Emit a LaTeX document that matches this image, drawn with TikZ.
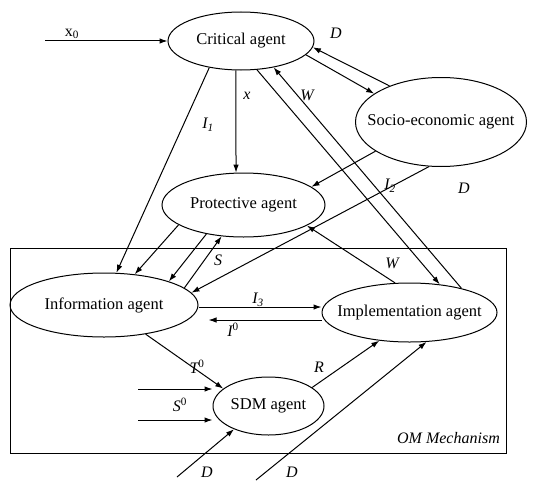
\documentclass[tikz,border=0pt]{standalone}
\usepackage{fontspec}
\setmainfont{Liberation Serif}
\usetikzlibrary{shapes.geometric,arrows.meta}
\tikzset{
  agent/.style={draw, ellipse, inner sep=0pt, line width=1pt, font=\fontsize{16.5}{19}\selectfont},
  arr/.style={-{Latex[length=8pt,width=5.5pt]}, line width=1pt},
  lbl/.style={font=\fontsize{16}{18}\selectfont\itshape, inner sep=0pt},
  frame/.style={draw, line width=1pt},
}
\begin{document}
\begin{tikzpicture}[x=1pt,y=-1pt]
\useasboundingbox (0,0) rectangle (534,487);
\draw[frame] (10,248) rectangle (506,453);

\node[agent, minimum width=146pt, minimum height=58pt] (crit) at (241,41) {\makebox[0pt]{Critical agent}};
\node[agent, minimum width=171pt, minimum height=89pt] (socio) at (441,122) {\makebox[0pt]{Socio-economic agent}};
\node[agent, minimum width=163pt, minimum height=64pt] (prot) at (243.5,205) {\makebox[0pt]{Protective agent}};
\node[agent, minimum width=188pt, minimum height=64pt] (info) at (104,305) {\makebox[0pt]{Information agent}};
\node[agent, minimum width=175pt, minimum height=59pt] (impl) at (409.5,312.5) {\makebox[0pt]{Implementation agent}};
\node[agent, minimum width=111pt, minimum height=58pt] (sdm) at (268.5,406) {\makebox[0pt]{SDM agent}};

\coordinate (x0s) at (45,41);
\coordinate (s0a) at (138,389);
\coordinate (s0b) at (138,420);
\coordinate (d1) at (177,477);
\coordinate (d2) at (256,480);

\draw[arr] (x0s) -- (crit.west);
\draw[arr] (crit.260) -- (prot.103);
\draw[arr] (crit.220) -- (info.69);
\draw[arr] (crit.348) -- (socio.157);
\draw[arr] (socio.145) -- (crit.355);
\draw[arr] (crit.299) -- (impl.43);
\draw[arr] (impl.25) -- (crit.321);
\draw[arr] (socio.204) -- (prot.15);
\draw[arr] (socio.255) -- (info.8);
\draw[arr] (impl.116) -- (prot.342);
\draw[arr] (prot.197) -- (info.45);
\draw[arr] (prot.218) -- (info.20);
\draw[arr] (info.12) -- (prot.235);
\draw[arr] ([yshift=-2pt]info.east) -- ([yshift=5.5pt]impl.west);
\draw[arr, shorten >=10pt] ([yshift=-7.5pt]impl.west) -- ([yshift=-15pt]info.east);
\draw[arr] (info.325) -- (sdm.159);
\draw[arr] (s0a) -- (s0a -| sdm.west);
\draw[arr] (s0b) -- (s0b -| sdm.west);
\draw[arr] (d1) -- (sdm.214);
\draw[arr] (d2) -- (impl.300);
\draw[arr] (sdm.23) -- (impl.223);

\node[lbl] (lx0) at (72,34) {\upshape x\textsubscript{0}};
\node[lbl] (lx) at (247,96) {x};
\node[lbl] (li1) at (208,125) {I\textsubscript{1}};
\node[lbl] (lw1) at (307,95) {W};
\node[lbl] (ld1) at (336,33) {D};
\node[lbl] (li2) at (390,186) {I\textsubscript{2}};
\node[lbl] (ld2) at (464,188) {D};
\node[lbl] (ls) at (218,260) {S};
\node[lbl] (lw2) at (392,263) {W};
\node[lbl] (li3) at (258,300) {I\textsubscript{3}};
\node[lbl] (li0) at (233,330) {I\textsuperscript{\upshape 0}};
\node[lbl] (lt0) at (197,367) {T\textsuperscript{\upshape 0}};
\node[lbl] (ls0) at (180,405) {S\textsuperscript{\upshape 0}};
\node[lbl] (lr) at (319,367) {R};
\node[lbl] (ld3) at (207,472) {D};
\node[lbl] (ld4) at (292,472) {D};
\node[lbl, anchor=east] (lom) at (500,438) {OM Mechanism};
\end{tikzpicture}
\end{document}
